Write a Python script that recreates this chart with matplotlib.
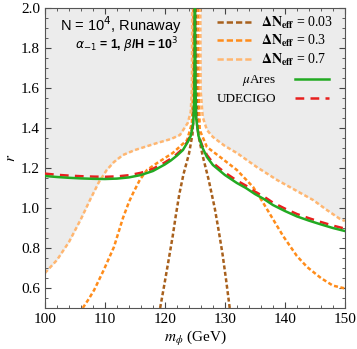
import numpy as np
import matplotlib
matplotlib.use('Agg')
from matplotlib import pyplot as plt
from matplotlib.ticker import MultipleLocator

# muAres sensitivity (left branch, spike, right branch)
mu_x = [100, 102, 104, 106, 108, 110, 112, 114, 116, 118, 120, 121, 122, 123, 123.8, 124.3, 124.7, 124.9, 125.0,
        125.1, 125.2, 125.6, 126.2, 127, 128, 129, 130, 131, 132, 133.5, 135, 136.5, 138, 140, 142, 144, 146, 148, 150]
mu_y = [1.160, 1.155, 1.151, 1.148, 1.146, 1.145, 1.147, 1.153, 1.165, 1.185, 1.218, 1.238, 1.262, 1.29, 1.33, 1.36, 1.42, 1.55, 2.0,
        1.6, 1.45, 1.36, 1.305, 1.255, 1.215, 1.19, 1.165, 1.145, 1.125, 1.10, 1.07, 1.045, 1.015, 0.985, 0.958, 0.937, 0.918, 0.90, 0.885]

# UDECIGO
ud_x = [100, 102, 104, 106, 108, 110, 112, 114, 116, 118, 120, 121, 122, 123, 123.8, 124.3, 124.7, 124.9, 125.0,
        125.1, 125.2, 125.6, 126.2, 127, 128, 129, 130, 131, 132, 133.5, 135, 136.5, 138, 140, 142, 144, 146, 148, 150]
ud_y = [1.172, 1.166, 1.162, 1.159, 1.157, 1.156, 1.158, 1.164, 1.176, 1.196, 1.228, 1.247, 1.27, 1.297, 1.335, 1.365, 1.42, 1.55, 2.0,
        1.6, 1.45, 1.365, 1.313, 1.265, 1.226, 1.201, 1.177, 1.157, 1.137, 1.112, 1.082, 1.057, 1.027, 0.997, 0.97, 0.949, 0.93, 0.912, 0.897]

# Delta N_eff = 0.03
n003_lx = [119.2, 119.8, 120.5, 121.3, 121.8, 122.4, 123.1, 124.0, 124.6, 124.9, 124.95]
n003_ly = [0.5, 0.6, 0.72, 0.86, 0.96, 1.07, 1.17, 1.27, 1.37, 1.6, 2.0]
n003_rx = [125.2, 125.3, 125.6, 126.3, 127.3, 128.3, 129.0, 129.6, 130.2, 130.8]
n003_ry = [2.0, 1.6, 1.36, 1.26, 1.14, 1.0, 0.88, 0.77, 0.64, 0.5]

# Delta N_eff = 0.3
n03_lx = [106.3, 107.3, 108.2, 109.8, 111.5, 113, 114, 114.7, 115.8, 117, 118.7, 121.3, 123.7, 124.5, 124.7, 124.75]
n03_ly = [0.5, 0.545, 0.59, 0.69, 0.805, 0.95, 1.03, 1.075, 1.14, 1.19, 1.225, 1.275, 1.34, 1.425, 1.6, 2.0]
n03_rx = [125.6, 125.65, 125.8, 127, 129.2, 132, 134.7, 136.3, 137.5, 139.7, 142, 143.7, 146, 148, 150]
n03_ry = [2.0, 1.6, 1.39, 1.305, 1.255, 1.19, 1.105, 1.03, 0.97, 0.86, 0.76, 0.705, 0.65, 0.612, 0.598]

# Delta N_eff = 0.7
n07_lx = [100, 102, 104, 106, 107.5, 109, 110.3, 111.5, 113, 115, 118.7, 121, 122.5, 123.8, 124.3, 124.5, 124.55]
n07_ly = [0.675, 0.74, 0.83, 0.945, 1.04, 1.13, 1.19, 1.23, 1.265, 1.29, 1.325, 1.345, 1.365, 1.425, 1.48, 1.6, 2.0]
n07_rx = [125.9, 125.95, 126.3, 127, 128, 130, 132, 135.3, 138.7, 142, 144.7, 147, 149.2, 150]
n07_ry = [2.0, 1.59, 1.455, 1.39, 1.355, 1.31, 1.275, 1.205, 1.14, 1.085, 1.04, 0.99, 0.945, 0.935]

c003, c03, c07 = '#a8601c', '#ff8c1a', '#ffb670'
plt.rcParams['mathtext.fontset'] = 'stix'
plt.rcParams['font.family'] = ['Liberation Serif', 'DejaVu Serif']

fig = plt.figure(figsize=(3.57, 3.49), dpi=100)
ax = fig.add_axes([0.126, 0.1175, 0.84, 0.8595])

# grey excluded region above the 0.7 curve
ax.fill_between(n07_lx, n07_ly, 2.0, color='#ececec', lw=0, zorder=0)
ax.fill_between(n07_rx, n07_ry, 2.0, color='#ececec', lw=0, zorder=0)

ls = (0, (1.6, 1.0))
for (lx, ly, rx, ry), c in [((n003_lx, n003_ly, n003_rx, n003_ry), c003),
                            ((n03_lx, n03_ly, n03_rx, n03_ry), c03),
                            ((n07_lx, n07_ly, n07_rx, n07_ry), c07)]:
    ax.plot(lx, ly, color=c, lw=1.8, ls=ls, zorder=2)
    ax.plot(rx, ry, color=c, lw=1.8, ls=ls, zorder=2)

ax.plot(ud_x, ud_y, color='#e8201e', lw=1.8, ls=(0, (3.5, 2.5)), zorder=3)
ax.plot(mu_x, mu_y, color='#22aa22', lw=1.8, zorder=4)

ax.set_xlim(100, 150)
ax.set_ylim(0.5, 2.0)
ax.xaxis.set_major_locator(MultipleLocator(10))
ax.xaxis.set_minor_locator(MultipleLocator(2))
ax.yaxis.set_major_locator(MultipleLocator(0.2))
ax.yaxis.set_minor_locator(MultipleLocator(0.05))
ax.tick_params(which='both', direction='in', top=True, right=True, labelsize=11, color='#444444')
ax.tick_params(which='major', length=4)
ax.tick_params(which='minor', length=2)
for s in ax.spines.values():
    s.set_color('#555555')
ax.set_yticks([0.6, 0.8, 1.0, 1.2, 1.4, 1.6, 1.8, 2.0])
ax.set_yticklabels(['0.6', '0.8', '1.0', '1.2', '1.4', '1.6', '1.8', '2.0'])
ax.set_xlabel(r'$m_\phi$ (GeV)', fontsize=11, labelpad=2)
ax.set_ylabel(r'$r$', fontsize=11, labelpad=2)

# legends
h1 = [plt.Line2D([], [], color=c, lw=1.8, ls=(0, (2.5, 1.2))) for c in (c003, c03, c07)]
l1 = [r'$\mathbf{\Delta N_{eff}}$ = 0.03', r'$\mathbf{\Delta N_{eff}}$ = 0.3', r'$\mathbf{\Delta N_{eff}}$ = 0.7']
leg1 = ax.legend(h1, l1, loc='upper left', bbox_to_anchor=(0.555, 0.995), frameon=False,
                 fontsize=10, handlelength=2.6, handletextpad=0.6, labelspacing=0.15, borderaxespad=0)
ax.add_artist(leg1)
h2 = [plt.Line2D([], [], color='#22aa22', lw=1.8),
      plt.Line2D([], [], color='#e8201e', lw=1.8, ls=(0, (3.5, 2.5)))]
ax.legend(h2, [r'$\mu$Ares', 'UDECIGO'], loc='upper left', bbox_to_anchor=(0.555, 0.80), frameon=False,
          fontsize=9.5, markerfirst=False, handlelength=2.6, handletextpad=1.4, labelspacing=0.35, borderaxespad=0)

ax.text(0.05, 0.925, r'N = 10$^4$, Runaway', transform=ax.transAxes, fontsize=10.5,
        family='Liberation Sans', math_fontfamily='dejavusans')
ax.text(0.10, 0.862, r'$\alpha_{-1}$ = 1, $\beta$/H = 10$^3$', transform=ax.transAxes, fontsize=8.8,
        family='Liberation Sans', weight='bold', math_fontfamily='dejavusans')

fig.savefig('out.png', dpi=100)
